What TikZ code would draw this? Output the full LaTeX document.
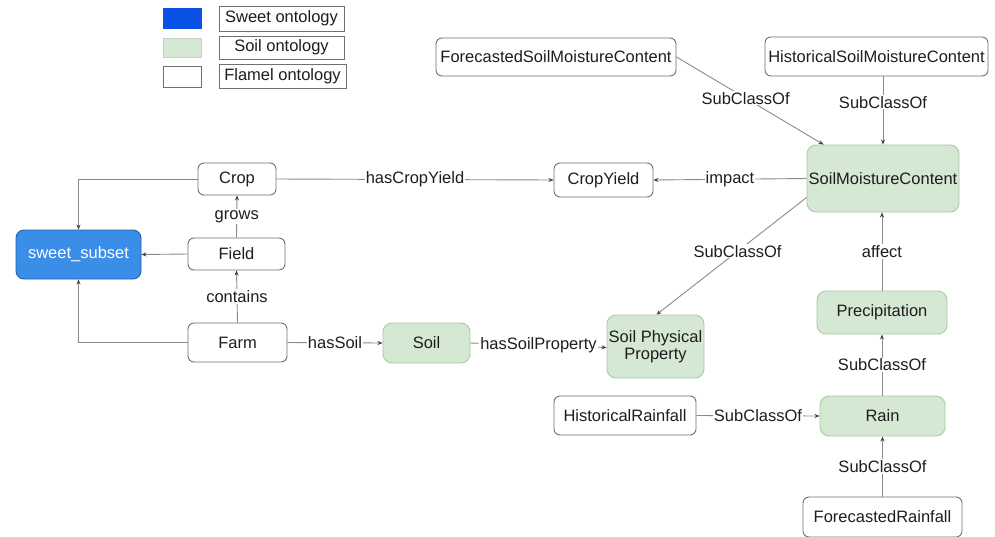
\documentclass[tikz,border=0pt]{standalone}
\usepackage{fontspec}
\setmainfont{Liberation Sans}
\usetikzlibrary{arrows.meta,positioning}
\definecolor{edgegray}{HTML}{8A8A8A}
\definecolor{boxline}{HTML}{707070}
\definecolor{soilfill}{HTML}{D5E8D4}
\definecolor{soilline}{HTML}{A9C9A6}
\definecolor{sweetfill}{HTML}{3A8EE8}
\definecolor{sweetline}{HTML}{2060B0}
\definecolor{legblue}{HTML}{0A52E6}
\definecolor{txt}{HTML}{1E1E1E}
\newcommand{\diagfont}{\fontsize{16.5}{18}\selectfont}
\tikzset{
  base/.style={rounded corners=6pt, inner sep=0pt, align=center, font=\diagfont, text=txt, line width=0.9pt},
  flamel/.style={base, draw=boxline, fill=white},
  soil/.style={base, draw=soilline, fill=soilfill, rounded corners=9pt},
  sweet/.style={base, draw=sweetline, fill=sweetfill, text=white, rounded corners=8pt},
  legbox/.style={draw=boxline, line width=0.9pt, inner sep=0pt, font=\diagfont, text=txt},
  swatch/.style={line width=0.9pt, inner sep=0pt, minimum width=38pt},
  edge/.style={draw=edgegray, line width=0.9pt, -{Stealth[length=5pt,width=4pt,color=black!75]}},
  lbl/.style={fill=white, inner sep=1pt, font=\diagfont, text=txt}
}
\begin{document}
\begin{tikzpicture}[x=1pt,y=-1pt]
\useasboundingbox[fill=white] (0,0) rectangle (995,536);

% legend
\node[swatch, fill=legblue, draw=legblue, minimum height=20pt] (lgs) at (182,18) {};
\node[swatch, fill=soilfill, draw=soilfill!80!gray, minimum height=19pt] (lgo) at (182,47.5) {};
\node[swatch, fill=white, draw=boxline, minimum height=21pt] (lgf) at (182,76.5) {};
\node[legbox, minimum width=125pt, minimum height=25pt] (lts) at (281.5,18.5) {Sweet ontology};
\node[legbox, minimum width=125pt, minimum height=23pt] (lto) at (281.5,47.5) {Soil ontology};
\node[legbox, minimum width=127pt, minimum height=24pt] (ltf) at (282.5,76) {Flamel ontology};

% nodes
\node[sweet, minimum width=125pt, minimum height=49pt] (sweet) at (78.5,254.5) {sweet\_subset};
\node[flamel, minimum width=78pt, minimum height=32pt] (crop) at (237,179) {Crop};
\node[flamel, minimum width=97pt, minimum height=32pt] (field) at (236.5,254) {Field};
\node[flamel, minimum width=99pt, minimum height=39pt] (farm) at (237.5,342.5) {Farm};
\node[soil, minimum width=87pt, minimum height=40pt] (soil) at (426.5,343) {Soil};
\node[soil, minimum width=97pt, minimum height=63pt] (spp) at (655.5,346.5) {Soil Physical\\[-1pt]Property};
\node[flamel, minimum width=99pt, minimum height=34pt] (cy) at (603.5,180) {CropYield};
\node[soil, minimum width=152pt, minimum height=67pt] (smc) at (883,178.5) {SoilMoistureContent};
\node[flamel, minimum width=240pt, minimum height=38pt] (fsmc) at (556,57) {ForecastedSoilMoistureContent};
\node[flamel, minimum width=223pt, minimum height=39pt] (hsmc) at (876.5,56.5) {HistoricalSoilMoistureContent};
\node[soil, minimum width=130pt, minimum height=43pt] (prec) at (882,312.5) {Precipitation};
\node[soil, minimum width=125pt, minimum height=40pt] (rain) at (882.5,416) {Rain};
\node[flamel, minimum width=142pt, minimum height=39pt] (hr) at (625,415.5) {HistoricalRainfall};
\node[flamel, minimum width=159pt, minimum height=40pt] (fr) at (882.5,517) {ForecastedRainfall};

% links into sweet_subset
\draw[edge] (crop.west) -| (sweet.north);
\draw[edge] (field.west) -- (sweet.east);
\draw[edge] (farm.west) -| (sweet.south);

% object properties
\draw[edge] (field.north) -- node[lbl] {grows} (crop.south);
\draw[edge] (farm.north) -- node[lbl] {contains} (field.south);
\draw[edge] (crop.east) -- node[lbl] {hasCropYield} (cy.west);
\draw[edge] (smc.west) -- node[lbl] {impact} (cy.east);
\draw[edge] (farm.east) -- node[lbl] {hasSoil} (soil.west);
\draw[edge] (soil.east) -- node[lbl] {hasSoilProperty} ([yshift=-1pt]spp.west);

% class hierarchy
\coordinate (smcsw) at ([yshift=-19pt]smc.west);
\coordinate (smcnw) at ([xshift=17pt]smc.north west);
\draw[edge] (smcsw) -- node[lbl, pos=0.46] {SubClassOf} ([xshift=1pt]spp.north);
\draw[edge] (fsmc.east) -- node[lbl, pos=0.47] {SubClassOf} (smcnw);
\draw[edge] (hsmc.south -| smc.north) -- node[lbl, pos=0.38] {SubClassOf} (smc.north);
\draw[edge] (prec.north) -- node[lbl] {affect} (prec.north |- smc.south);
\draw[edge] (rain.north -| prec.south) -- node[lbl] {SubClassOf} (prec.south);
\draw[edge] (hr.east) -- node[lbl] {SubClassOf} (rain.west);
\draw[edge] (fr.north -| rain.south) -- node[lbl] {SubClassOf} (rain.south);
\end{tikzpicture}
\end{document}
